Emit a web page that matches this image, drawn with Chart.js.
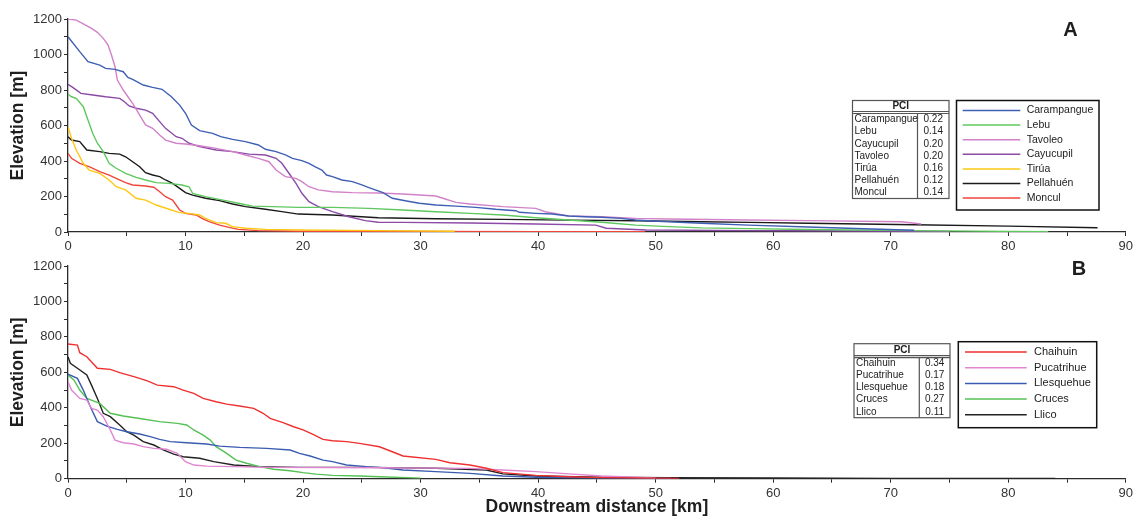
<!DOCTYPE html>
<html>
<head>
<meta charset="utf-8">
<title>Longitudinal river profiles</title>
<script src="https://cdn.jsdelivr.net/npm/chart.js@4.4.0/dist/chart.umd.min.js"></script>
<style>
  body { margin: 0; background: #fff; }
  canvas { display: block; }
</style>
</head>
<body>
<canvas id="profile-a" width="1136" height="256"></canvas>
<canvas id="profile-b" width="1136" height="269"></canvas>
<script>
// ---- Panel A rivers: downstream distance [km] / elevation [m] ----
const carampangueKm = [0, 1, 1.7, 2.7, 3.2, 4, 4.7, 5.1, 5.5, 6.4, 7.2, 8, 8.8, 9.5, 10, 10.5, 11.2, 12.3, 13, 14, 15.1, 16.2, 16.8, 17.7, 18.5, 19.1, 19.9, 20.5, 21, 21.6, 22, 22.5, 23.3, 24.2, 25, 25.6, 26.8, 27.6, 28.8, 29.9, 31.3, 33, 34.7, 36.4, 38.1, 38.4, 39.8, 41.2, 42.6, 44, 45.4, 47.1, 48.3, 49.7, 51.1, 53.9, 57.9, 63, 67, 72];
const carampangueElev = [1100, 1016, 960, 940, 922, 916, 903, 871, 860, 828, 815, 804, 762, 715, 669, 603, 571, 556, 537, 522, 509, 490, 466, 453, 434, 415, 402, 387, 368, 349, 321, 312, 293, 284, 265, 250, 222, 190, 175, 162, 152, 146, 139, 128, 120, 111, 105, 101, 90, 86, 83, 77, 68, 62, 58, 49, 39, 28, 20, 10];

const lebuKm = [0, 0.3, 0.7, 1.3, 1.7, 2.1, 2.5, 3, 3.5, 4.1, 4.9, 5.8, 6.6, 7.5, 8.6, 9.7, 10.3, 10.6, 11.7, 13.4, 14.5, 15.7, 17.4, 19.6, 22.5, 25.6, 28.5, 31.3, 34.2, 37, 39.8, 42.6, 45.4, 48.3, 51.1, 53.9, 57.9, 63, 70, 77, 83.4];
const lebuElev = [776, 762, 753, 706, 631, 556, 500, 453, 387, 359, 330, 308, 293, 278, 274, 265, 255, 218, 199, 177, 162, 146, 143, 139, 139, 133, 124, 114, 105, 96, 80, 68, 55, 39, 30, 23, 19, 14, 9, 5, 2];

const tavoleoKm = [0, 0.7, 1.3, 2, 2.5, 3, 3.4, 3.7, 4, 4.2, 4.7, 5.1, 5.5, 6.1, 6.6, 7.2, 7.8, 8.3, 9.2, 10, 11.2, 12.6, 14, 15.1, 16.2, 17.1, 17.7, 18.5, 19.4, 19.9, 20.5, 21.3, 22.5, 24.2, 26.4, 28.5, 31.3, 31.9, 33, 34.2, 37, 39.8, 40.6, 42.6, 45.4, 48.3, 51.1, 57.9, 63, 70.9, 72.6];
const tavoleoElev = [1200, 1194, 1172, 1147, 1125, 1091, 1054, 997, 931, 856, 800, 762, 725, 659, 603, 584, 546, 518, 500, 496, 486, 471, 453, 434, 415, 396, 349, 312, 302, 284, 255, 237, 227, 222, 220, 214, 203, 190, 167, 158, 143, 133, 114, 90, 86, 77, 73, 68, 64, 58, 45];

const cayucupilKm = [0, 0.4, 1.1, 2.1, 3.2, 4.4, 4.8, 5.2, 5.8, 6.6, 7.2, 7.8, 8.3, 9.2, 9.7, 10.3, 11.2, 12.6, 14, 15.4, 16.8, 17.7, 18.2, 18.8, 19.4, 19.9, 20.5, 21.3, 22.5, 23.9, 25.3, 26.4, 28.5, 34.2, 39.8, 44.9, 45.8, 49.2, 57.9, 63, 75];
const cayucupilElev = [832, 815, 781, 772, 762, 753, 734, 710, 697, 687, 669, 622, 584, 537, 528, 500, 481, 462, 453, 439, 434, 415, 387, 331, 274, 218, 171, 143, 115, 86, 64, 55, 54, 51, 45, 39, 21, 11, 8, 7, 3];

const tiruaKm = [0, 0.3, 0.7, 1.3, 1.8, 2.7, 3.5, 4.1, 4.9, 5.8, 6.6, 7.5, 8.6, 9.5, 10.3, 11.2, 11.7, 12.6, 13.4, 14, 15.1, 16.8, 19.6, 26.4, 32.9];
const tiruaElev = [593, 528, 462, 387, 349, 330, 293, 255, 237, 190, 180, 152, 128, 109, 105, 96, 77, 53, 49, 30, 21, 15, 11, 8, 4];

const pellahuenKm = [0, 0.3, 1, 1.6, 2.7, 3.5, 4.4, 4.9, 5.5, 6.1, 6.6, 7.2, 7.8, 8.3, 8.9, 9.5, 10, 10.6, 11.7, 12.9, 14, 15.1, 16.8, 18.2, 19.6, 22.5, 26.4, 31.3, 37, 42.6, 48.3, 53.9, 58, 63, 72, 80, 87.6];
const pellahuenElev = [537, 518, 509, 462, 453, 443, 439, 424, 396, 368, 334, 321, 312, 293, 274, 246, 222, 208, 190, 177, 158, 143, 128, 115, 101, 96, 80, 75, 71, 67, 63, 58, 54, 49, 41, 33, 24];

const monculKm = [0, 0.3, 1, 1.8, 2.7, 3.5, 4.1, 4.9, 5.5, 6.6, 7.3, 7.8, 8.3, 8.9, 9.5, 10, 10.9, 11.4, 12, 12.9, 13.7, 14.5, 16.2, 19.6, 30, 40, 49.1];
const monculElev = [443, 415, 387, 368, 340, 321, 302, 278, 265, 259, 252, 227, 199, 180, 124, 105, 96, 77, 58, 39, 26, 15, 8, 4, 3, 2, 1];

// ---- Panel B rivers ----
const chaihuinKm = [0, 0.8, 1, 1.6, 2.5, 3.6, 4.4, 5.6, 6.7, 7.6, 9, 9.8, 10.7, 11.5, 12.6, 13.5, 14.6, 15.8, 16.6, 17.2, 18.3, 19.2, 20, 20.8, 21.7, 22.5, 23.7, 24.8, 26.5, 27.6, 28.5, 31.3, 32.5, 34.2, 35.6, 37, 39.8, 42.6, 45.4, 48.3, 52];
const chaihuinElev = [760, 754, 711, 688, 623, 617, 598, 576, 553, 528, 519, 500, 481, 453, 434, 421, 410, 397, 369, 340, 316, 293, 275, 252, 222, 214, 209, 199, 180, 152, 128, 109, 90, 77, 59, 34, 19, 11, 6, 4, 2];

const pucatrihueKm = [0, 0.3, 1, 1.6, 2, 2.5, 3, 3.6, 4, 4.7, 5.6, 6.4, 7.3, 8.4, 9.3, 10, 10.7, 11.8, 14.1, 16.9, 26.5, 34.2, 37, 39.8, 42.6, 45.4, 48.3, 50];
const pucatrihueElev = [547, 500, 453, 444, 397, 387, 350, 275, 218, 203, 196, 181, 171, 166, 143, 96, 77, 71, 68, 64, 62, 58, 49, 40, 27, 15, 8, 3];

const llesquehueKm = [0, 0.8, 1.3, 1.9, 2.5, 3.3, 4.2, 5, 6.1, 7, 7.8, 8.7, 10.1, 11.8, 12.9, 14.6, 16.9, 18.9, 19.7, 20.6, 21.7, 22.5, 23.7, 25.4, 26.5, 28.5, 31.3, 34.2, 37, 39.8, 45.4, 51.3];
const llesquehueElev = [590, 566, 500, 406, 322, 297, 278, 265, 252, 237, 222, 209, 203, 196, 184, 177, 171, 162, 143, 128, 105, 96, 77, 68, 64, 49, 40, 30, 15, 8, 4, 1];

const crucesKm = [0, 0.5, 1, 1.6, 2.7, 3.6, 4.7, 6.1, 7.8, 9.3, 10.1, 10.7, 11.5, 12.1, 12.6, 13.5, 14.3, 15.2, 16.3, 17.5, 18.9, 20, 21.1, 22.5, 24.8, 26.5, 30];
const crucesElev = [585, 557, 500, 453, 425, 369, 354, 340, 322, 312, 303, 275, 246, 218, 181, 143, 105, 87, 68, 53, 45, 34, 26, 19, 15, 11, 3];

const llicoKm = [0, 0.2, 0.8, 1.6, 2, 2.5, 3, 3.6, 4.4, 5, 5.6, 6.4, 7.3, 8.1, 9, 9.8, 11.2, 12.4, 14.1, 16.3, 19.7, 25.6, 31.3, 35.6, 37, 39.8, 45.4, 51, 60, 70, 84];
const llicoElev = [688, 651, 623, 585, 528, 453, 369, 350, 303, 265, 246, 209, 190, 162, 139, 124, 115, 96, 77, 68, 64, 64, 59, 49, 27, 15, 8, 5, 4, 2, 1];

// PCI values per river
const pciNamesA = ['Carampangue', 'Lebu', 'Cayucupil', 'Tavoleo', 'Tirúa', 'Pellahuén', 'Moncul'];
const pciValuesA = [0.22, 0.14, 0.20, 0.20, 0.16, 0.12, 0.14];
const pciNamesB = ['Chaihuin', 'Pucatrihue', 'Llesquehue', 'Cruces', 'Llico'];
const pciValuesB = [0.34, 0.17, 0.18, 0.27, 0.11];

const FONT = '"Liberation Sans", Arial, sans-serif';
Chart.defaults.font.family = FONT;

function profile(km, elev) {
  return km.map((d, i) => ({ x: d, y: elev[i] }));
}

function river(label, km, elev, color) {
  return {
    label: label,
    data: profile(km, elev),
    borderColor: color,
    backgroundColor: color,
    borderWidth: 1.4,
    pointRadius: 0,
    tension: 0,
    fill: false
  };
}

// PCI table, legend box and panel letter
const panelNotes = {
  id: 'panelNotes',
  afterDraw(chart, args, o) {
    const ctx = chart.ctx;
    ctx.save();

    ctx.fillStyle = '#1e1e1e';
    ctx.font = 'bold 20px ' + FONT;
    ctx.textAlign = 'center';
    ctx.textBaseline = 'middle';
    ctx.fillText(o.letter, o.letterX, o.letterY);

    // PCI table
    const t = o.table;
    ctx.strokeStyle = '#555';
    ctx.lineWidth = 1.2;
    ctx.strokeRect(t.x, t.y, t.w, t.h);
    ctx.beginPath();
    ctx.moveTo(t.x, t.y + t.headH); ctx.lineTo(t.x + t.w, t.y + t.headH);
    ctx.moveTo(t.x, t.y + t.headH + 2); ctx.lineTo(t.x + t.w, t.y + t.headH + 2);
    ctx.moveTo(t.colX, t.y + t.headH + 2); ctx.lineTo(t.colX, t.y + t.h);
    ctx.stroke();
    ctx.fillStyle = '#222';
    ctx.font = 'bold 10px ' + FONT;
    ctx.fillText('PCI', t.x + t.w / 2, t.y + t.headH / 2 + 0.5);
    ctx.font = '10px ' + FONT;
    t.names.forEach((name, i) => {
      const y = t.rowY0 + i * t.rowStep;
      ctx.textAlign = 'left';
      ctx.fillText(name, t.x + 2, y);
      ctx.textAlign = 'center';
      ctx.fillText(t.values[i].toFixed(2), (t.colX + t.x + t.w) / 2, y);
    });

    // legend box
    const l = o.legend;
    ctx.strokeStyle = '#111';
    ctx.lineWidth = 1.5;
    ctx.strokeRect(l.x, l.y, l.w, l.h);
    ctx.font = l.fontSize + 'px ' + FONT;
    ctx.textAlign = 'left';
    chart.data.datasets.forEach((ds, i) => {
      const y = l.rowY0 + i * l.rowStep;
      ctx.strokeStyle = ds.borderColor;
      ctx.lineWidth = 1.5;
      ctx.beginPath();
      ctx.moveTo(l.lineX0, y);
      ctx.lineTo(l.lineX1, y);
      ctx.stroke();
      ctx.fillStyle = '#222';
      ctx.fillText(ds.label, l.textX, y);
    });
    ctx.restore();
  }
};

function scales(xTitle, xHeight) {
  const axisColor = '#2b2b2b';
  return {
    x: {
      type: 'linear',
      min: 0,
      max: 90,
      afterFit: s => { s.height = xHeight; },
      border: { color: axisColor, width: 1.3 },
      grid: { drawOnChartArea: false, tickLength: 4, color: axisColor, lineWidth: 1 },
      ticks: {
        stepSize: 5,
        autoSkip: false,
        maxRotation: 0,
        padding: 3,
        color: '#333',
        font: { size: 13 },
        callback: v => (v % 10 === 0 ? v : '')
      },
      title: {
        display: xTitle,
        text: 'Downstream distance [km]',
        color: '#1e1e1e',
        font: { size: 17.5, weight: 'bold' },
        padding: { top: 0, bottom: 7 }
      }
    },
    y: {
      min: 0,
      max: 1200,
      afterFit: s => { s.width = 68; },
      border: { color: axisColor, width: 1.3 },
      grid: { drawOnChartArea: false, tickLength: 4, color: axisColor, lineWidth: 1 },
      ticks: {
        stepSize: 100,
        autoSkip: false,
        padding: 2,
        color: '#333',
        font: { size: 13 },
        callback: v => (v % 200 === 0 ? v : '')
      },
      title: {
        display: true,
        text: 'Elevation [m]',
        color: '#1e1e1e',
        font: { size: 17.5, weight: 'bold' },
        padding: { top: 8, bottom: 0 }
      }
    }
  };
}

new Chart(document.getElementById('profile-a'), {
  type: 'line',
  data: {
    datasets: [
      river('Carampangue', carampangueKm, carampangueElev, '#3f5fb4'),
      river('Lebu', lebuKm, lebuElev, '#5ec85e'),
      river('Tavoleo', tavoleoKm, tavoleoElev, '#d282c8'),
      river('Cayucupil', cayucupilKm, cayucupilElev, '#8b4aa6'),
      river('Tirúa', tiruaKm, tiruaElev, '#fcc814'),
      river('Pellahuén', pellahuenKm, pellahuenElev, '#1a1a1a'),
      river('Moncul', monculKm, monculElev, '#f0463a')
    ]
  },
  options: {
    responsive: false,
    animation: false,
    layout: { padding: { top: 19, right: 8, left: 0, bottom: 0 } },
    scales: scales(false, 24),
    plugins: {
      legend: { display: false },
      tooltip: { enabled: false },
      panelNotes: {
        letter: 'A', letterX: 1070.5, letterY: 30,
        table: { x: 852.5, y: 100.5, w: 96.5, h: 98, headH: 11, colX: 917.5, rowY0: 119.5, rowStep: 12.2, names: pciNamesA, values: pciValuesA },
        legend: { x: 956.5, y: 100.5, w: 142.5, h: 109.5, lineX0: 962.7, lineX1: 1020.3, textX: 1026.7, rowY0: 110.5, rowStep: 14.6, fontSize: 10.5 }
      }
    }
  },
  plugins: [panelNotes]
});

new Chart(document.getElementById('profile-b'), {
  type: 'line',
  data: {
    datasets: [
      river('Chaihuin', chaihuinKm, chaihuinElev, '#ee3030'),
      river('Pucatrihue', pucatrihueKm, pucatrihueElev, '#e086d0'),
      river('Llesquehue', llesquehueKm, llesquehueElev, '#3a5cb0'),
      river('Cruces', crucesKm, crucesElev, '#55c055'),
      river('Llico', llicoKm, llicoElev, '#222222')
    ]
  },
  options: {
    responsive: false,
    animation: false,
    layout: { padding: { top: 10, right: 8, left: 0, bottom: 0 } },
    scales: scales(true, 46.3),
    plugins: {
      legend: { display: false },
      tooltip: { enabled: false },
      panelNotes: {
        letter: 'B', letterX: 1079, letterY: 13,
        table: { x: 854, y: 87.7, w: 96, h: 74, headH: 12, colX: 919.3, rowY0: 107, rowStep: 12.2, names: pciNamesB, values: pciValuesB },
        legend: { x: 958.3, y: 85.7, w: 138.4, h: 86, lineX0: 965, lineX1: 1026.7, textX: 1034, rowY0: 96, rowStep: 15.7, fontSize: 11 }
      }
    }
  },
  plugins: [panelNotes]
});
</script>
</body>
</html>
